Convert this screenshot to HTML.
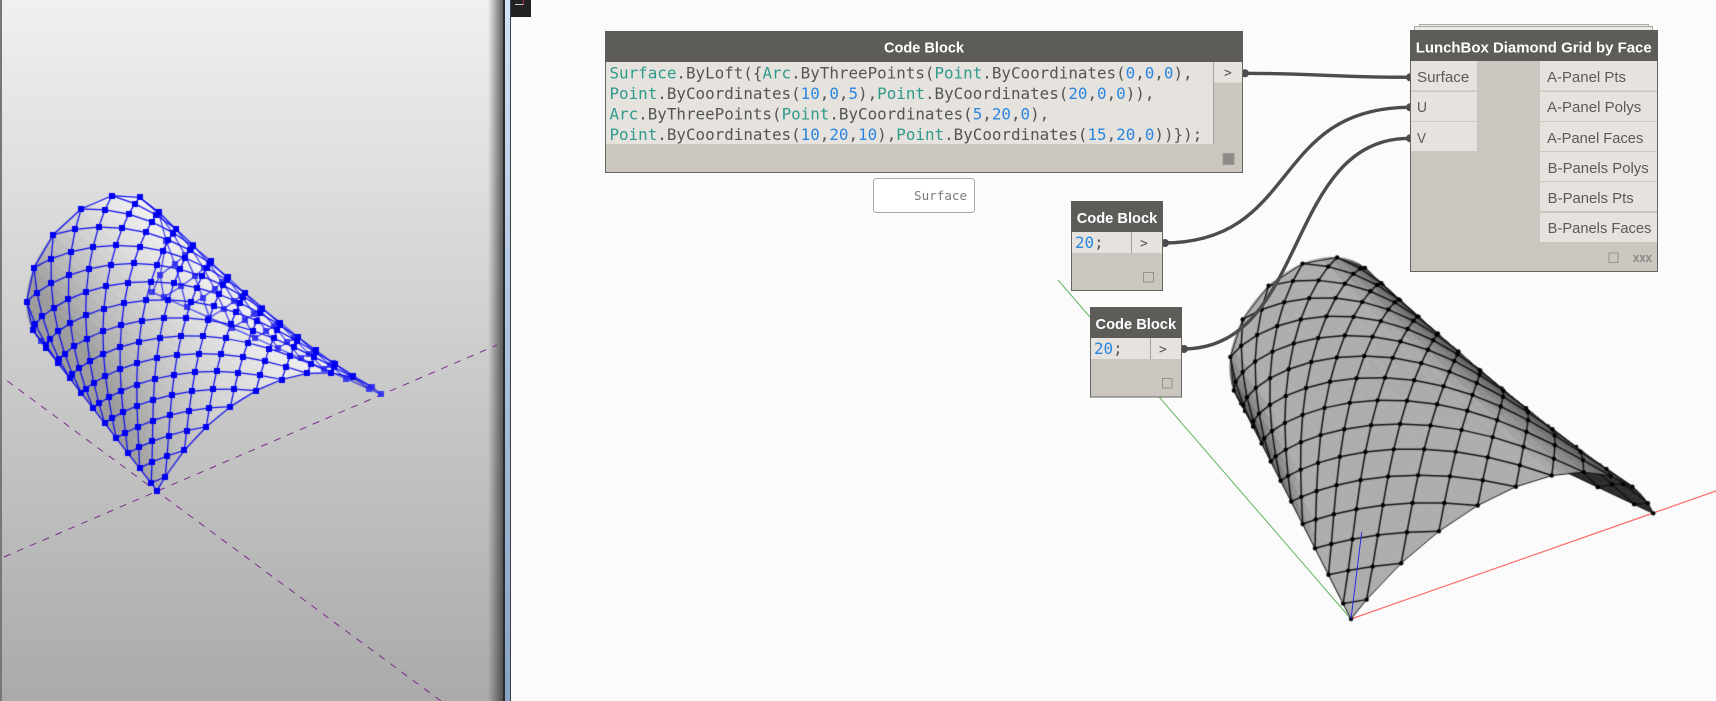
<!DOCTYPE html>
<html><head><meta charset="utf-8">
<style>
html,body{margin:0;padding:0;width:1716px;height:701px;overflow:hidden;background:#fbfbfb}
.a{position:absolute}
svg text{font-family:"Liberation Sans",sans-serif}
svg text.m{font-family:"DejaVu Sans Mono","Liberation Mono",monospace}
</style></head>
<body>
<div class="a" style="left:0;top:0;width:504px;height:701px;background:linear-gradient(#f0f0f0,#aaaaaa)"></div>
<div class="a" style="left:0;top:0;width:2px;height:701px;background:#777"></div>
<div class="a" style="left:488px;top:0;width:15px;height:701px;background:linear-gradient(90deg,rgba(60,60,60,0),rgba(50,50,50,.75))"></div>
<div class="a" style="left:503px;top:0;width:2px;height:701px;background:#2a2a2a"></div>
<div class="a" style="left:505px;top:0;width:5px;height:701px;background:linear-gradient(#d2e3f6,#86a2c4)"></div>
<div class="a" style="left:510px;top:0;width:1px;height:701px;background:#39404a"></div>
<div class="a" style="left:511px;top:0;width:20px;height:17px;background:#222"></div>
<div class="a" style="left:515px;top:4px;width:8px;height:1px;background:#ccc"></div>
<div class="a" style="left:523px;top:0;width:1px;height:5px;background:#a34"></div>

<svg class="a" style="left:0;top:0" width="1716" height="701">
<g stroke="#7b2d8b" stroke-width="1" stroke-dasharray="7 7" fill="none">
<line x1="4" y1="557" x2="497" y2="345"/>
<line x1="7.3" y1="381" x2="441" y2="701"/>
</g>
<line x1="1351" y1="619" x2="1716" y2="491" stroke="#ff6a6a" stroke-width="1.2"/>
<line x1="1351" y1="619" x2="1058" y2="280" stroke="#62b562" stroke-width="1"/>
</svg>

<canvas id="c" class="a" style="left:0;top:0" width="1716" height="701"></canvas>

<svg class="a" style="left:0;top:0" width="1716" height="701">
<line x1="1351" y1="619" x2="1361.7" y2="532" stroke="#2a2ae0" stroke-width="1"/>

<!-- wires -->
<g fill="none" stroke="#4c4c4c" stroke-width="3.4">
<path d="M1243,73.3 C1310,73.3 1340,77.3 1410,77.3"/>
<path d="M1163,243 C1300,243 1270,107.3 1410,107.3"/>
<path d="M1182,349 C1310,349 1283,138.3 1410,138.3"/>
</g>
<g fill="#4c4c4c">
<circle cx="1245" cy="73.3" r="4"/><circle cx="1410" cy="77.3" r="4"/>
<circle cx="1410" cy="107.3" r="4"/><circle cx="1410" cy="138.3" r="4"/>
<circle cx="1165" cy="243" r="4"/><circle cx="1184" cy="349" r="4"/>
</g>

<!-- big code block -->
<rect x="605.5" y="31.5" width="637" height="141" fill="#cbc6bf" stroke="#66645f"/>
<rect x="605" y="31" width="638" height="31" fill="#5e5c59"/>
<rect x="606" y="62" width="607" height="82" fill="#e6e3de"/>
<rect x="1214" y="62" width="28" height="20.5" fill="#e6e3de"/>
<line x1="1213.5" y1="62" x2="1213.5" y2="144" stroke="#a5a29c"/>
<rect x="1223" y="153.5" width="11" height="11" fill="#8d8b86" stroke="#9a9893"/>
<text x="884" y="52.5" font-size="15" font-weight="bold" fill="#fff" textLength="80" lengthAdjust="spacingAndGlyphs">Code Block</text>
<text x="1224" y="77" font-size="13" class="m" fill="#555">&gt;</text>
<g class="code" font-size="15.88">
<text class="m" x="609.5" y="78.5" fill="#555"><tspan fill="#2f9a8c">Surface</tspan>.ByLoft({<tspan fill="#2f9a8c">Arc</tspan>.ByThreePoints(<tspan fill="#2f9a8c">Point</tspan>.ByCoordinates(<tspan fill="#2a86e0">0</tspan>,<tspan fill="#2a86e0">0</tspan>,<tspan fill="#2a86e0">0</tspan>),</text>
<text class="m" x="609.5" y="99" fill="#555"><tspan fill="#2f9a8c">Point</tspan>.ByCoordinates(<tspan fill="#2a86e0">10</tspan>,<tspan fill="#2a86e0">0</tspan>,<tspan fill="#2a86e0">5</tspan>),<tspan fill="#2f9a8c">Point</tspan>.ByCoordinates(<tspan fill="#2a86e0">20</tspan>,<tspan fill="#2a86e0">0</tspan>,<tspan fill="#2a86e0">0</tspan>)),</text>
<text class="m" x="609.5" y="119.5" fill="#555"><tspan fill="#2f9a8c">Arc</tspan>.ByThreePoints(<tspan fill="#2f9a8c">Point</tspan>.ByCoordinates(<tspan fill="#2a86e0">5</tspan>,<tspan fill="#2a86e0">20</tspan>,<tspan fill="#2a86e0">0</tspan>),</text>
<text class="m" x="609.5" y="140" fill="#555"><tspan fill="#2f9a8c">Point</tspan>.ByCoordinates(<tspan fill="#2a86e0">10</tspan>,<tspan fill="#2a86e0">20</tspan>,<tspan fill="#2a86e0">10</tspan>),<tspan fill="#2f9a8c">Point</tspan>.ByCoordinates(<tspan fill="#2a86e0">15</tspan>,<tspan fill="#2a86e0">20</tspan>,<tspan fill="#2a86e0">0</tspan>))});</text>
</g>

<!-- watch -->
<rect x="873.5" y="178.5" width="101" height="34" rx="3" fill="#fff" stroke="#a9a9a9"/>
<text class="m" x="914" y="200" font-size="12.6" fill="#7a7a7a">Surface</text>

<!-- code block 2 -->
<rect x="1071.5" y="201.5" width="91" height="89" fill="#cbc6bf" stroke="#66645f"/>
<rect x="1071" y="201" width="92" height="31" fill="#5e5c59"/>
<rect x="1072" y="232" width="90" height="21" fill="#e6e3de"/>
<line x1="1131.5" y1="232" x2="1131.5" y2="253" stroke="#a5a29c"/>
<text x="1076.7" y="223" font-size="15" font-weight="bold" fill="#fff" textLength="80.6" lengthAdjust="spacingAndGlyphs">Code Block</text>
<text class="m" x="1075" y="248" font-size="15.88" fill="#555"><tspan fill="#2a86e0">20</tspan>;</text>
<text class="m" x="1140" y="247.5" font-size="13" fill="#555">&gt;</text>
<rect x="1143.5" y="272.5" width="10" height="9.5" fill="none" stroke="#94928d"/>

<!-- code block 3 -->
<rect x="1090.5" y="307.5" width="91" height="89.5" fill="#cbc6bf" stroke="#66645f"/>
<rect x="1090" y="307" width="92" height="31" fill="#5e5c59"/>
<rect x="1091" y="338" width="90" height="21" fill="#e6e3de"/>
<line x1="1150.5" y1="338" x2="1150.5" y2="359" stroke="#a5a29c"/>
<text x="1095.5" y="329" font-size="15" font-weight="bold" fill="#fff" textLength="80.6" lengthAdjust="spacingAndGlyphs">Code Block</text>
<text class="m" x="1094" y="354" font-size="15.88" fill="#555"><tspan fill="#2a86e0">20</tspan>;</text>
<text class="m" x="1159" y="353.5" font-size="13" fill="#555">&gt;</text>
<rect x="1162.5" y="378.5" width="9.5" height="9.5" fill="none" stroke="#94928d"/>

<!-- lunchbox -->
<rect x="1419.5" y="24.5" width="229" height="10" fill="#f2f1ee" stroke="#a8a6a1"/>
<rect x="1414.5" y="26.5" width="238" height="10" fill="#ebe9e5" stroke="#a8a6a1"/>
<rect x="1410.5" y="30.5" width="247" height="241" fill="#cbc6bf" stroke="#66645f"/>
<rect x="1410" y="30" width="248" height="31" fill="#5e5c59"/>
<g fill="#e6e3de">
<rect x="1411" y="61" width="66" height="29.5"/>
<rect x="1411" y="92" width="66" height="29"/>
<rect x="1411" y="122" width="66" height="29"/>
<rect x="1540" y="61" width="117" height="29.5"/>
<rect x="1540" y="92" width="117" height="29"/>
<rect x="1540" y="122" width="117" height="29"/>
<rect x="1540" y="152" width="117" height="29"/>
<rect x="1540" y="182" width="117" height="29"/>
<rect x="1540" y="213" width="117" height="29"/>
</g>
<text x="1415.7" y="52.5" font-size="15" font-weight="bold" fill="#fff" textLength="236" lengthAdjust="spacingAndGlyphs">LunchBox Diamond Grid by Face</text>
<g font-size="14.5" fill="#5c5a57">
<text x="1417" y="82" textLength="52.3" lengthAdjust="spacingAndGlyphs">Surface</text>
<text x="1417" y="112" textLength="10" lengthAdjust="spacingAndGlyphs">U</text>
<text x="1417" y="143" textLength="9" lengthAdjust="spacingAndGlyphs">V</text>
<text x="1547" y="82" textLength="79" lengthAdjust="spacingAndGlyphs">A-Panel Pts</text>
<text x="1547" y="112" textLength="94.3" lengthAdjust="spacingAndGlyphs">A-Panel Polys</text>
<text x="1547" y="143" textLength="96.3" lengthAdjust="spacingAndGlyphs">A-Panel Faces</text>
<text x="1547.7" y="173" textLength="101" lengthAdjust="spacingAndGlyphs">B-Panels Polys</text>
<text x="1547.7" y="203" textLength="86" lengthAdjust="spacingAndGlyphs">B-Panels Pts</text>
<text x="1547.7" y="233" textLength="103.7" lengthAdjust="spacingAndGlyphs">B-Panels Faces</text>
</g>
<rect x="1609" y="253" width="9" height="9.5" fill="none" stroke="#94928d"/>
<text x="1633" y="262" font-size="13" font-weight="bold" fill="#8b8985" textLength="19" lengthAdjust="spacingAndGlyphs">xxx</text>
</svg>

<script>
(function(){
var ctx=document.getElementById('c').getContext('2d');
var R=Math.PI/180;
function S(u,v){
  var a=(-53.13+106.26*u)*R,b=(-126.87+253.74*u)*R;
  var f=[10+12.5*Math.sin(a),0,-7.5+12.5*Math.cos(a)];
  var g=[10+6.25*Math.sin(b),20,3.75+6.25*Math.cos(b)];
  return [f[0]+(g[0]-f[0])*v,f[1]+(g[1]-f[1])*v,f[2]+(g[2]-f[2])*v];
}
function sub(a,b){return [a[0]-b[0],a[1]-b[1],a[2]-b[2]];}
function cross(a,b){return [a[1]*b[2]-a[2]*b[1],a[2]*b[0]-a[0]*b[2],a[0]*b[1]-a[1]*b[0]];}
function dot(a,b){return a[0]*b[0]+a[1]*b[1]+a[2]*b[2];}
function unit(a){var l=Math.sqrt(dot(a,a))||1;return [a[0]/l,a[1]/l,a[2]/l];}
function cl(t){return Math.min(.995,Math.max(.005,t));}
function normal(u,v){
  var e=.005;u=cl(u);v=cl(v);
  return unit(cross(sub(S(u+e,v),S(u-e,v)),sub(S(u,v+e),S(u,v-e))));
}
function DR(p){return 1+.00822*p[0]+.0211*p[1]-.0085*p[2];}
function PR(p){var d=DR(p);return [1351+(17.6*p[0]-12.43*p[1]+2.9*p[2])/d,619+(-6.15*p[0]-14.23*p[1]-16.57*p[2])/d];}
function PL(p){return [157+11.18*p[0]-8.617*p[1],490.67-4.83*p[0]-6.3*p[1]-11.58*p[2]];}
var CAM=[-23.3,-25.9,30.9],VL=[-.504,-.653,.566];
function cR(u,v){var n=normal(u,v);return dot(n,unit(sub(CAM,S(cl(u),cl(v)))));}

var nodes=[],edges=[],n=20,i,j;
function isN(a,b){
  if(a<0||b<0||a>n||b>n)return false;
  return ((a+b)%2==1)||((a==0||a==n)&&(b==0||b==n));
}
for(i=0;i<=n;i++)for(j=0;j<=n;j++){
  if(!isN(i,j))continue;
  nodes.push([i,j]);
  if(isN(i+1,j+1))edges.push([i,j,i+1,j+1,0]);
  if(isN(i+1,j-1))edges.push([i,j,i+1,j-1,0]);
}
function bd(list){for(var k=0;k<list.length-1;k++)edges.push(list[k].concat(list[k+1]).concat([1]));}
var seq=[0];for(i=1;i<n;i+=2)seq.push(i);seq.push(n);
[0,n].forEach(function(f){
  bd(seq.map(function(s){return [s,f];}));
  bd(seq.map(function(s){return [f,s];}));
});

var M=40,quads=[];
for(i=0;i<M;i++)for(j=0;j<M;j++){
  quads.push({u:(i+.5)/M,v:(j+.5)/M,pts:[S(i/M,j/M),S((i+1)/M,j/M),S((i+1)/M,(j+1)/M),S(i/M,(j+1)/M)]});
}
function fillQ(pts,P,col){
  ctx.beginPath();
  pts.forEach(function(p,k){var s=P(p);if(k)ctx.lineTo(s[0],s[1]);else ctx.moveTo(s[0],s[1]);});
  ctx.closePath();ctx.fillStyle=col;ctx.strokeStyle=col;ctx.lineWidth=.7;ctx.fill();ctx.stroke();
}
function gray(g){g=Math.max(0,Math.min(255,Math.round(g)));return 'rgb('+g+','+g+','+g+')';}

/* LEFT VIEW */
var LL=unit([.6,-.2,.77]);
quads.forEach(function(q){
  q.n=normal(q.u,q.v);
  q.c=dot(q.n,VL);
  q.d=dot(S(q.u,q.v),VL);
});
quads.slice().sort(function(a,b){return a.d-b.d;}).forEach(function(q){
  var g;
  if(q.c>=0){ g=175+65*Math.max(-.3,dot(q.n,LL)); }
  else g=176;
  fillQ(q.pts,PL,gray(g));
});
function drawLeft(hidden){
  ctx.lineCap='butt';ctx.lineWidth=1.25;
  edges.forEach(function(e){
    var um=(e[0]+e[2])/2/n,vm=(e[1]+e[3])/2/n;
    var h=dot(normal(um,vm),VL)<-.03;
    if(h!=hidden)return;
    ctx.strokeStyle=hidden?'rgba(25,25,240,.8)':'#0c0cee';
    var a=PL(S(e[0]/n,e[1]/n)),b=PL(S(e[2]/n,e[3]/n));
    ctx.beginPath();ctx.moveTo(a[0],a[1]);ctx.lineTo(b[0],b[1]);ctx.stroke();
  });
  nodes.forEach(function(m){
    var u=m[0]/n,v=m[1]/n;
    var h=dot(normal(u,v),VL)<-.03;
    if(h!=hidden)return;
    var s=PL(S(u,v));
    ctx.fillStyle=hidden?'rgba(40,40,240,.85)':'#0000f0';
    ctx.fillRect(Math.round(s[0]-3),Math.round(s[1]-3),6,6);
  });
}
drawLeft(true);drawLeft(false);

/* RIGHT VIEW: back side first, then front side on top */
function drawEdges(back){
  ctx.strokeStyle='#141414';ctx.lineCap='round';
  edges.forEach(function(e){
    var h=cR((e[0]+e[2])/2/n,(e[1]+e[3])/2/n)<-.03;
    if(h!=back)return;
    ctx.lineWidth=e[4]?1:1.5;
    var a=PR(S(e[0]/n,e[1]/n)),b=PR(S(e[2]/n,e[3]/n));
    ctx.beginPath();ctx.moveTo(a[0],a[1]);ctx.lineTo(b[0],b[1]);ctx.stroke();
  });
  ctx.fillStyle='#000';
  nodes.forEach(function(m){
    var u=m[0]/n,v=m[1]/n;
    var h=cR(u,v)<-.03;
    if(h!=back)return;
    var s=PR(S(u,v));
    ctx.beginPath();ctx.arc(s[0],s[1],2.2,0,7);ctx.fill();
  });
}
var backQ=[],frontQ=[];
quads.forEach(function(q){
  var c0=S(q.u,q.v),c=dot(q.n,unit(sub(CAM,c0)));
  q.cr=c;q.dr=DR(c0);
  (c>=0?frontQ:backQ).push(q);
});
function bd2(a,b){return b.dr-a.dr;}
backQ.sort(bd2).forEach(function(q){fillQ(q.pts,PR,gray(50+14*q.cr));});
drawEdges(true);
frontQ.sort(bd2).forEach(function(q){
  var g=45+128*Math.pow(Math.min(1,q.cr*1.8),.9);
  fillQ(q.pts,PR,gray(g));
});
drawEdges(false);
})();
</script>
</body></html>
